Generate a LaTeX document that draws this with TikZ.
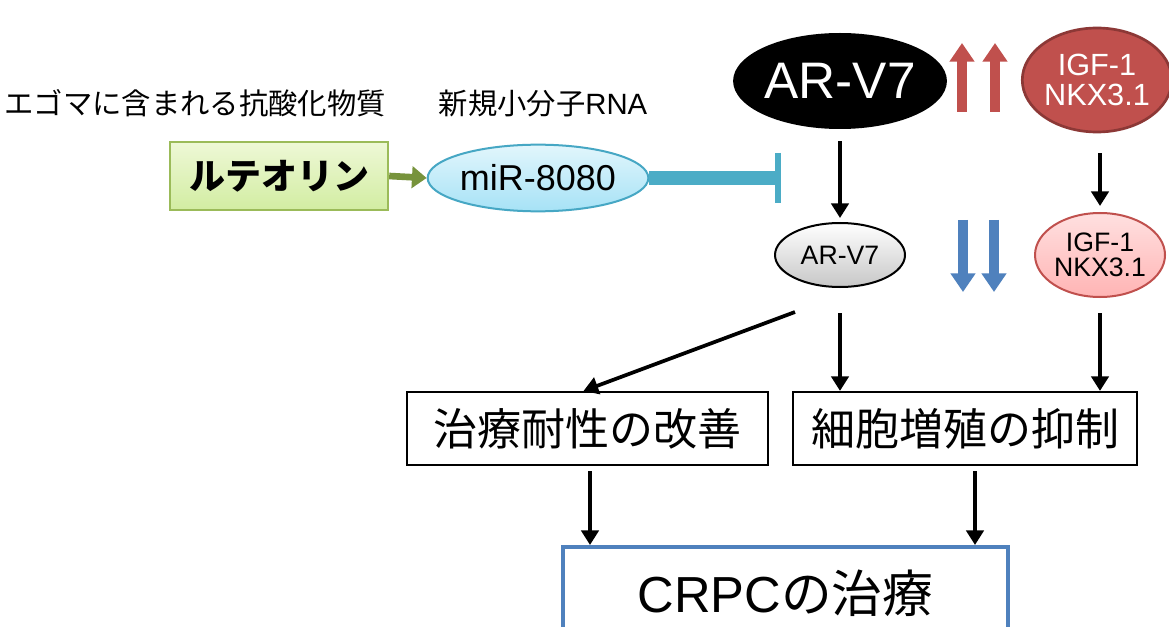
\documentclass[tikz,border=0pt]{standalone}
\usepackage{fontspec}
\setmainfont{Liberation Sans}
\newfontfamily\jp{Noto Sans CJK JP}
\usetikzlibrary{arrows.meta,shapes.geometric,calc}
\definecolor{oteal}{HTML}{4BACC6}
\definecolor{ogreen}{HTML}{9BBB59}
\definecolor{dgreen}{HTML}{77933C}
\definecolor{ored}{HTML}{C0504D}
\definecolor{dred}{HTML}{8C3836}
\definecolor{oblue}{HTML}{4F81BD}
\definecolor{lgtop}{HTML}{EEF8D6}
\definecolor{lgbot}{HTML}{D2EDA2}
\definecolor{cytop}{HTML}{E2F6FC}
\definecolor{cybot}{HTML}{A6E2F6}
\definecolor{cyborder}{HTML}{46A7C4}
\definecolor{pktop}{HTML}{FFE0E0}
\definecolor{pkbot}{HTML}{FFB4B4}
\begin{document}
\begin{tikzpicture}[x=0.75pt,y=-0.75pt,
  blk/.style={line width=2.8pt,-{Triangle[width=13pt,length=11pt]}},
  fatup/.style={line width=7.5pt,-{Triangle[width=18pt,length=14pt]}},
  ell/.style={ellipse,inner sep=0pt,align=center},
  box/.style={rectangle,draw=black,line width=1.6pt,inner sep=0pt,font=\jp\fontsize{33}{36}\selectfont},
  lbl/.style={font=\jp\fontsize{22}{24}\selectfont}]
\useasboundingbox (0,0) rectangle (1169,627);
\fill[white] (0,0) rectangle (1169,627);
% labels
\node[lbl] (t1) at (195,103) {エゴマに含まれる抗酸化物質};
\node[lbl,font=\jp\fontsize{22}{24}\selectfont] (t2) at (543,103) {新規小分子\fontspec{Liberation Sans}RNA};
% luteolin
\node[rectangle,minimum width=163.5pt,minimum height=51pt,inner sep=0pt,
  top color=lgtop,bottom color=lgbot,
  draw=ogreen,line width=1.8pt,font=\jp\bfseries\fontsize{27}{30}\selectfont] (lut) at (279,176) {ルテオリン};
% miR
\node[ell,minimum width=147pt,minimum height=50pt,top color=cytop,bottom color=cybot,
  draw=cyborder,line width=1.5pt,font=\fontsize{27}{30}\selectfont] (mir) at (538,178) {miR-8080};
\draw[dgreen,line width=5pt,-{Triangle[width=16pt,length=11pt]}] (lut.east) -- (mir.west);
\coordinate (bar) at (778,178);
\draw[oteal,line width=10.5pt] (mir.east) -- (bar);
\draw[oteal,line width=5pt] ($(bar)+(0,-25)$) -- ($(bar)+(0,25)$);
% AR-V7 big
\node[ell,minimum width=150pt,minimum height=72pt,fill=black,text=white,
  font=\fontsize{38.5}{40}\selectfont] (arv) at (840,81) {AR-V7};
% IGF big
\node[ell,minimum width=108pt,minimum height=78pt,fill=ored,draw=dred,line width=2pt,text=white,
  font=\fontsize{23}{23}\selectfont] (igf) at (1097,80) {IGF-1\\NKX3.1};
% red up arrows
\coordinate (r1b) at (962,112); \coordinate (r1t) at (962,43);
\coordinate (r2b) at (995,112); \coordinate (r2t) at (995,43);
\draw[fatup,ored] (r1b) -- (r1t);
\draw[fatup,ored] (r2b) -- (r2t);
% small AR-V7
\node[ell,minimum width=97.5pt,minimum height=48pt,top color=white,bottom color=black!22,
  draw=black,line width=1.5pt,font=\fontsize{20}{20}\selectfont] (arvs) at (840,255) {AR-V7};
% small IGF
\node[ell,minimum width=97.5pt,minimum height=63pt,top color=pktop,bottom color=pkbot,
  draw=ored,line width=1.5pt,font=\fontsize{20}{19}\selectfont] (igfs) at (1100,255) {IGF-1\\NKX3.1};
% blue down arrows
\coordinate (b1t) at (963,220); \coordinate (b1b) at (963,292);
\coordinate (b2t) at (994,220); \coordinate (b2b) at (994,292);
\draw[fatup,oblue] (b1t) -- (b1b);
\draw[fatup,oblue] (b2t) -- (b2b);
% down arrows
\draw[blk,shorten >=3pt] ($(arv.south)+(0,12)$) -- (arvs.north);
\draw[blk,shorten >=4.5pt] ($(igf.south -| igfs.north)+(0,20)$) -- (igfs.north);
% boxes
\node[box,minimum width=270.75pt,minimum height=54.75pt] (b1) at (587.5,428.5) {治療耐性の改善};
\node[box,minimum width=258pt,minimum height=54.75pt] (b2) at (965,428.5) {細胞増殖の抑制};
\coordinate (d1) at (795,312);
\draw[blk] (d1) -- ([xshift=-3pt]b1.north);
\draw[blk] ($(arvs.south)+(0,25)$) -- (arvs |- b2.north);
\draw[blk] ($(igfs.south)+(0,15)$) -- (igfs |- b2.north);
% CRPC
\node[rectangle,draw=oblue,line width=3pt,fill=white,minimum width=333.75pt,minimum height=69.75pt,
  inner sep=0pt,font=\jp\fontsize{38}{40}\selectfont] (crpc) at (785.5,593.5) {\fontspec{Liberation Sans}CRPC\jp の治療};
\draw[blk] ($(b1.south)+(2.5,5)$) -- ($(b1.south |- crpc.north)+(2.5,0)$);
\draw[blk] ($(b2.south)+(10,5)$) -- ($(b2.south |- crpc.north)+(10,0)$);
\end{tikzpicture}
\end{document}
